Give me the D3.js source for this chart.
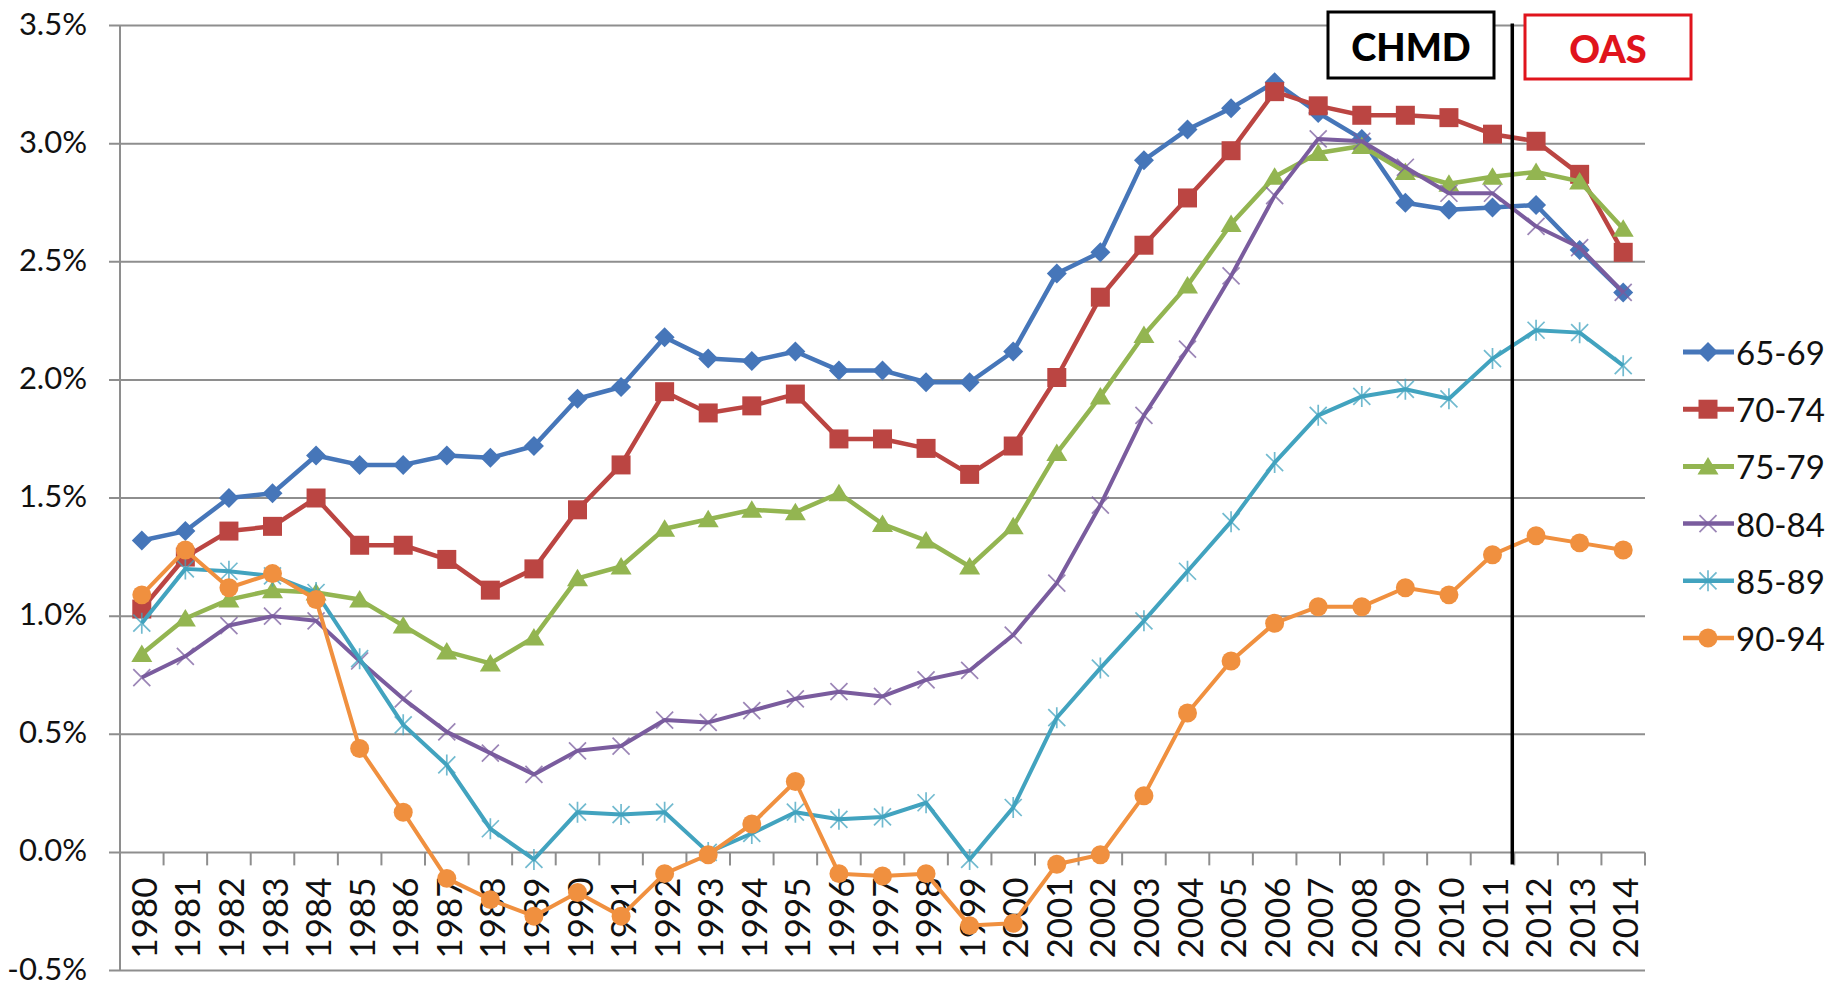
<!DOCTYPE html>
<html>
<head>
<meta charset="utf-8">
<script src="https://cdn.jsdelivr.net/npm/d3@7"></script>
<style>
  html, body { margin: 0; padding: 0; background: #ffffff; }
  svg { display: block; font-family: Lato, "Open Sans", sans-serif; }
</style>
</head>
<body>
<svg id="chart" width="1835" height="987"></svg>
<script>
// Categories
const years = ["1980","1981","1982","1983","1984","1985","1986","1987","1988","1989",
               "1990","1991","1992","1993","1994","1995","1996","1997","1998","1999",
               "2000","2001","2002","2003","2004","2005","2006","2007","2008","2009",
               "2010","2011","2012","2013","2014"];

// Series values (percent), one per age group
const age6569 = [1.32,1.36,1.50,1.52,1.68,1.64,1.64,1.68,1.67,1.72,1.92,1.97,2.18,2.09,2.08,2.12,2.04,2.04,1.99,1.99,
                 2.12,2.45,2.54,2.93,3.06,3.15,3.26,3.13,3.02,2.75,2.72,2.73,2.74,2.55,2.37];
const age7074 = [1.03,1.25,1.36,1.38,1.50,1.30,1.30,1.24,1.11,1.20,1.45,1.64,1.95,1.86,1.89,1.94,1.75,1.75,1.71,1.60,
                 1.72,2.01,2.35,2.57,2.77,2.97,3.22,3.16,3.12,3.12,3.11,3.04,3.01,2.87,2.54];
const age7579 = [0.84,0.99,1.07,1.11,1.10,1.07,0.96,0.85,0.80,0.91,1.16,1.21,1.37,1.41,1.45,1.44,1.52,1.39,1.32,1.21,
                 1.38,1.69,1.93,2.19,2.40,2.66,2.86,2.96,2.99,2.88,2.83,2.86,2.88,2.84,2.64];
const age8084 = [0.74,0.83,0.96,1.00,0.98,0.81,0.65,0.51,0.42,0.33,0.43,0.45,0.56,0.55,0.60,0.65,0.68,0.66,0.73,0.77,
                 0.92,1.14,1.47,1.85,2.13,2.44,2.78,3.02,3.01,2.90,2.79,2.79,2.65,2.56,2.37];
const age8589 = [0.97,1.20,1.19,1.17,1.10,0.82,0.54,0.37,0.10,-0.03,0.17,0.16,0.17,0.00,0.08,0.17,0.14,0.15,0.21,-0.03,
                 0.19,0.57,0.78,0.98,1.19,1.40,1.65,1.85,1.93,1.96,1.92,2.09,2.21,2.20,2.06];
const age9094 = [1.09,1.28,1.12,1.18,1.07,0.44,0.17,-0.11,-0.20,-0.27,-0.17,-0.27,-0.09,-0.01,0.12,0.30,-0.09,-0.10,-0.09,-0.31,
                 -0.30,-0.05,-0.01,0.24,0.59,0.81,0.97,1.04,1.04,1.12,1.09,1.26,1.34,1.31,1.28];

const seriesNames = ["65-69","70-74","75-79","80-84","85-89","90-94"];

// Value axis ticks
const yTicks = [-0.5, 0.0, 0.5, 1.0, 1.5, 2.0, 2.5, 3.0, 3.5];
const yTickLabels = ["-0.5%","0.0%","0.5%","1.0%","1.5%","2.0%","2.5%","3.0%","3.5%"];

// Period annotations: data source before / after the split year
const periodLabels = ["CHMD", "OAS"];
const splitYear = "2012";

// ---- styling ----
const styles = [
  { color: "#4676b9", marker: "diamond",  width: 4.5 },
  { color: "#bb4542", marker: "square",   width: 4.5 },
  { color: "#93b551", marker: "triangle", width: 4.5 },
  { color: "#7a5c9e", marker: "cross",    width: 4 },
  { color: "#42a3bf", marker: "asterisk", width: 4 },
  { color: "#f0903f", marker: "circle",   width: 4 }
];
const seriesValues = [age6569, age7074, age7579, age8084, age8589, age9094];

const svg = d3.select("#chart");
const gridColor = "#8e8e8e";

const x = d3.scaleBand().domain(years).range([120, 1645]).paddingInner(0).paddingOuter(0);
const y = d3.scaleLinear().domain([-0.5, 3.5]).range([970.5, 25.5]);
const xc = d => x(d) + x.bandwidth() / 2;

// Horizontal gridlines (with short ticks left of the axis)
svg.append("g").selectAll("line").data(yTicks).join("line")
  .attr("x1", 109).attr("x2", x.range()[1])
  .attr("y1", d => y(d)).attr("y2", d => y(d))
  .attr("stroke", gridColor).attr("stroke-width", 2);

// Value axis line
svg.append("line")
  .attr("x1", x.range()[0]).attr("x2", x.range()[0])
  .attr("y1", y(3.5)).attr("y2", y(-0.5))
  .attr("stroke", gridColor).attr("stroke-width", 2);

// Value labels
svg.append("g").selectAll("text").data(yTicks).join("text")
  .attr("x", 87).attr("y", d => y(d) - 3)
  .attr("text-anchor", "end").attr("dominant-baseline", "central")
  .attr("font-size", 31).attr("fill", "#111")
  .text((d, i) => yTickLabels[i]);

// Category axis at zero with tick marks at band edges
const edges = years.map(d => x(d)).concat([x.range()[1]]);
svg.append("g").selectAll("line").data(edges.slice(1)).join("line")
  .attr("x1", d => d).attr("x2", d => d)
  .attr("y1", y(0)).attr("y2", y(0) + 13)
  .attr("stroke", gridColor).attr("stroke-width", 2);

// Category labels, rotated
svg.append("g").selectAll("text").data(years).join("text")
  .attr("transform", d => `translate(${xc(d) + 1},${y(0) + 25}) rotate(-90)`)
  .attr("text-anchor", "end").attr("dominant-baseline", "central")
  .attr("font-size", 35).attr("fill", "#111")
  .text(d => d);

// Marker shapes
function markerPath(type) {
  switch (type) {
    case "diamond":  return "M0,-10L10,0L0,10L-10,0Z";
    case "square":   return "M-9.5,-9.5H9.5V9.5H-9.5Z";
    case "triangle": return "M0,-9.5L10.5,8H-10.5Z";
    case "cross":    return "M-8.5,-8.5L8.5,8.5M-8.5,8.5L8.5,-8.5";
    case "asterisk": return "M-8.5,-8.5L8.5,8.5M-8.5,8.5L8.5,-8.5M0,-10.5V10.5";
    case "circle":   return d3.symbol(d3.symbolCircle, Math.PI * 90)();
  }
}
function drawMarker(g, type, color) {
  const stroked = (type === "cross" || type === "asterisk");
  g.append("path")
    .attr("d", markerPath(type))
    .attr("fill", stroked ? "none" : color)
    .attr("stroke", stroked ? color : "none")
    .attr("stroke-width", stroked ? 1.7 : 0)
    .attr("opacity", stroked ? 0.75 : 1);
}

const line = d3.line().x((d, i) => xc(years[i])).y(d => y(d));

// Series
seriesValues.forEach((vals, si) => {
  const st = styles[si];
  const g = svg.append("g").attr("class", "series");
  g.append("path").attr("d", line(vals))
    .attr("fill", "none").attr("stroke", st.color)
    .attr("stroke-width", st.width).attr("stroke-linejoin", "round");
  vals.forEach((v, i) => {
    const m = g.append("g").attr("transform", `translate(${xc(years[i])},${y(v)})`);
    drawMarker(m, st.marker, st.color);
  });
});

// Split line between periods
const splitX = x(splitYear) - 2;
svg.append("line")
  .attr("x1", splitX).attr("x2", splitX)
  .attr("y1", y(3.5) - 2).attr("y2", y(0) + 12)
  .attr("stroke", "#000").attr("stroke-width", 3.5);

// Period boxes
const boxes = [
  { label: periodLabels[0], x0: 1328, x1: 1494, y0: 12, y1: 78, color: "#000000" },
  { label: periodLabels[1], x0: 1525, x1: 1691, y0: 15, y1: 79, color: "#e0141c" }
];
boxes.forEach(b => {
  svg.append("rect")
    .attr("x", b.x0).attr("y", b.y0)
    .attr("width", b.x1 - b.x0).attr("height", b.y1 - b.y0)
    .attr("fill", "#fff").attr("stroke", b.color).attr("stroke-width", 3);
  svg.append("text")
    .attr("x", (b.x0 + b.x1) / 2).attr("y", (b.y0 + b.y1) / 2 + 1)
    .attr("text-anchor", "middle").attr("dominant-baseline", "central")
    .attr("font-size", 38).attr("font-weight", 900).attr("fill", b.color)
    .text(b.label);
});

// Legend
const legY = d3.scalePoint().domain(seriesNames).range([352, 638]);
const leg = svg.append("g");
seriesNames.forEach((name, si) => {
  const st = styles[si];
  const cy = legY(name);
  leg.append("line")
    .attr("x1", 1683).attr("x2", 1734).attr("y1", cy).attr("y2", cy)
    .attr("stroke", st.color).attr("stroke-width", st.width + 0.5);
  const m = leg.append("g").attr("transform", `translate(1708,${cy})`);
  drawMarker(m, st.marker, st.color);
  leg.append("text")
    .attr("x", 1736).attr("y", cy)
    .attr("dominant-baseline", "central")
    .attr("font-size", 33).attr("fill", "#111")
    .text(name);
});
</script>
</body>
</html>
